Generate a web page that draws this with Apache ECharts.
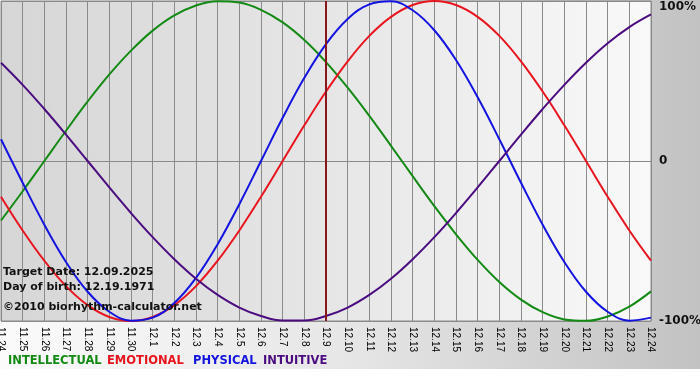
<!DOCTYPE html>
<html>
<head>
<meta charset="utf-8">
<script src="https://cdn.jsdelivr.net/npm/echarts@6/dist/echarts.min.js"></script>
<style>
  html, body { margin: 0; padding: 0; background: #fff; }
  #chart { width: 700px; height: 380px; }
</style>
</head>
<body>
<div id="chart"></div>
<script>
// days shown on the x axis
const days = ['11.24', '11.25', '11.26', '11.27', '11.28', '11.29', '11.30',
  '12.1', '12.2', '12.3', '12.4', '12.5', '12.6', '12.7', '12.8', '12.9',
  '12.10', '12.11', '12.12', '12.13', '12.14', '12.15', '12.16', '12.17',
  '12.18', '12.19', '12.20', '12.21', '12.22', '12.23', '12.24']
const targetDay = '12.9'

// percent values, one per day
const intellectual = [-37.2, -18.9, 0, 18.9, 37.2, 54.1, 69.0, 81.5, 91.0, 97.2, 99.9,
  99.0, 94.5, 86.6, 75.6, 61.8, 45.8, 28.2, 9.5, -9.5, -28.2, -45.8, -61.8,
  -75.6, -86.6, -94.5, -99.0, -99.9, -97.2, -91.0, -81.5]
const emotional = [-22.3, -43.4, -62.3, -78.2, -90.1, -97.5, -100, -97.5, -90.1, -78.2, -62.3,
  -43.4, -22.3, 0, 22.3, 43.4, 62.3, 78.2, 90.1, 97.5, 100, 97.5, 90.1,
  78.2, 62.3, 43.4, 22.3, 0, -22.3, -43.4, -62.3]
const physical = [13.6, -13.6, -39.8, -63.1, -81.7, -94.2, -99.8, -97.9, -88.8, -73.1, -52.0,
  -27.0, 0, 27.0, 52.0, 73.1, 88.8, 97.9, 99.8, 94.2, 81.7, 63.1, 39.8,
  13.6, -13.6, -39.8, -63.1, -81.7, -94.2, -99.8, -97.9]
const intuitive = [61.4, 47.6, 32.5, 16.5, 0, -16.5, -32.5, -47.6, -61.4, -73.6, -83.7,
  -91.6, -96.9, -99.7, -99.7, -96.9, -91.6, -83.7, -73.6, -61.4, -47.6, -32.5, -16.5,
  0, 16.5, 32.5, 47.6, 61.4, 73.6, 83.7, 91.6]

const yTicks = [-100, 0, 100]
const infoLines = ['Target Date: 12.09.2025', 'Day of birth: 12.19.1971', '\u00a92010 biorhythm-calculator.net']
const legendNames = ['INTELLECTUAL', 'EMOTIONAL', 'PHYSICAL', 'INTUITIVE']
const colors = ['#138a13', '#e8141e', '#1414e0', '#4b0c80']

const chart = echarts.init(document.getElementById('chart'))

const grad = (stops) => new echarts.graphic.LinearGradient(0, 0, 1, 0,
  stops.map((c, i) => ({ offset: i / (stops.length - 1), color: c })))

const series = [intellectual, emotional, physical, intuitive].map((data, i) => ({
  name: legendNames[i],
  type: 'line',
  data: data,
  smooth: 0.4,
  symbol: 'none',
  lineStyle: { color: colors[i], width: 2 },
  z: 3
}))
series[0].markLine = {
  silent: true,
  symbol: 'none',
  label: { show: false },
  lineStyle: { color: '#86181c', width: 2, type: 'solid' },
  data: [{ xAxis: targetDay }],
  z: 4
}

const infoY = [272, 287, 307]
const legendX = [8, 107, 193, 263]

const option = {
  animation: false,
  backgroundColor: grad(['#fbfbfb', '#e6e6e6', '#c2c2c2']),
  grid: {
    left: 1,
    right: 49,
    top: 1,
    bottom: 59,
    outerBoundsMode: 'none',
    containLabel: false,
    show: true,
    backgroundColor: grad(['#d6d6d6', '#e6e6e6', '#f9f9f9']),
    borderColor: '#8a8a8a',
    borderWidth: 1
  },
  xAxis: {
    type: 'category',
    boundaryGap: false,
    data: days,
    axisLine: { show: false },
    axisTick: { show: true, length: 4, interval: 0, lineStyle: { color: '#8a8a8a' } },
    splitLine: { show: true, interval: 0, lineStyle: { color: '#8a8a8a', width: 1 } },
    axisLabel: {
      interval: 0,
      rotate: -90,
      margin: 6,
      color: '#000',
      fontFamily: 'Liberation Sans',
      fontSize: 10
    }
  },
  yAxis: {
    type: 'value',
    position: 'right',
    min: yTicks[0],
    max: yTicks[2],
    interval: 100,
    axisLine: { show: false },
    axisTick: { show: false },
    splitLine: { show: true, lineStyle: { color: '#8a8a8a', width: 1 } },
    axisLabel: {
      margin: 8,
      color: '#111',
      fontFamily: 'DejaVu Sans',
      fontWeight: 'bold',
      fontSize: 12,
      verticalAlignMaxLabel: 'top',
      formatter: v => (v === 0 ? '0' : v + '%')
    }
  },
  graphic: [
    { type: 'rect', left: 0, top: 369, shape: { width: 700, height: 11 }, style: { fill: '#fff' }, z: -1 },
    ...infoLines.map((t, i) => ({
      type: 'text',
      x: 3,
      y: infoY[i],
      z: 10,
      style: {
        text: t,
        fill: '#111',
        font: 'bold 11px "DejaVu Sans"',
        verticalAlign: 'middle'
      }
    })),
    ...legendNames.map((t, i) => ({
      type: 'text',
      x: legendX[i],
      y: 361,
      z: 10,
      style: {
        text: t,
        fill: colors[i],
        font: 'bold 11.5px "DejaVu Sans"',
        verticalAlign: 'middle'
      }
    }))
  ],
  series: series
}

chart.setOption(option)
</script>
</body>
</html>
